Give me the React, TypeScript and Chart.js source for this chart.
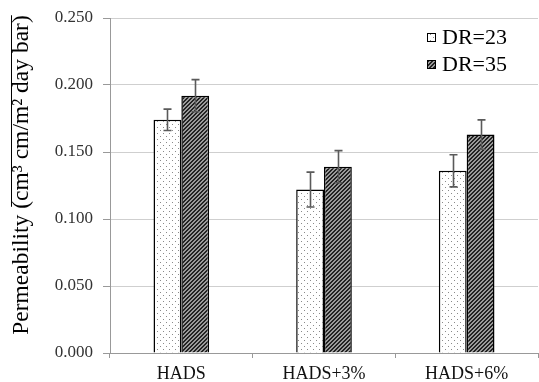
import React, { useEffect, useRef } from "react";
import { Chart, registerables } from "chart.js";

Chart.register(...registerables);

const categories = ["HADS", "HADS+3%", "HADS+6%"];
const seriesNames = ["DR=23", "DR=35"];
const dr23Values = [0.174, 0.122, 0.136];
const dr35Values = [0.192, 0.139, 0.163];
const dr23Errors = [0.008, 0.013, 0.012];
const dr35Errors = [0.012, 0.012, 0.011];
const yTicks = [0, 0.05, 0.1, 0.15, 0.2, 0.25];

const SERIF = '"Liberation Serif", "Times New Roman", serif';

function makeDots(): CanvasPattern | string {
  const c = document.createElement("canvas");
  c.width = 6;
  c.height = 6;
  const g = c.getContext("2d");
  if (!g) return "#fff";
  g.fillStyle = "#ffffff";
  g.fillRect(0, 0, 6, 6);
  g.fillStyle = "#8a8a8a";
  g.fillRect(1, 1, 1, 1);
  g.fillRect(4, 4, 1, 1);
  const p = g.createPattern(c, "repeat");
  return p || "#fff";
}

function makeHatch(): CanvasPattern | string {
  const c = document.createElement("canvas");
  c.width = 4;
  c.height = 4;
  const g = c.getContext("2d");
  if (!g) return "#555";
  for (let x = 0; x < 4; x++) {
    for (let y = 0; y < 4; y++) {
      g.fillStyle = (x + y) % 4 < 2 ? "#222" : "#9a9a9a";
      g.fillRect(x, y, 1, 1);
    }
  }
  const p = g.createPattern(c, "repeat");
  return p || "#555";
}

export default function App() {
  const ref = useRef<HTMLCanvasElement | null>(null);

  useEffect(() => {
    let chart: Chart | null = null;
    let cancelled = false;

    const build = () => {
      if (cancelled || !ref.current) return;
      const dots = makeDots();
      const hatch = makeHatch();
      const fills = [dots, hatch];
      const errors = [dr23Errors, dr35Errors];

      const errorBars = {
        id: "errorBars",
        afterDatasetsDraw(ch: any) {
          const ctx = ch.ctx;
          const ys = ch.scales.y;
          ctx.save();
          ctx.strokeStyle = "#5a5a5a";
          ctx.lineWidth = 1.6;
          ch.data.datasets.forEach((ds: any, i: number) => {
            const meta = ch.getDatasetMeta(i);
            meta.data.forEach((el: any, j: number) => {
              const v = ds.data[j];
              const e = errors[i][j];
              const x = Math.round(el.x) + 0.5;
              const yt = ys.getPixelForValue(v + e);
              const yb = ys.getPixelForValue(v - e);
              ctx.beginPath();
              ctx.moveTo(x, yt);
              ctx.lineTo(x, yb);
              ctx.moveTo(x - 4, yt);
              ctx.lineTo(x + 4, yt);
              ctx.moveTo(x - 4, yb);
              ctx.lineTo(x + 4, yb);
              ctx.stroke();
            });
          });
          ctx.restore();
        },
      };

      const decor = {
        id: "decor",
        afterDraw(ch: any) {
          const ctx = ch.ctx;
          ctx.save();
          const lx = 427;
          const rows = [37, 64];
          rows.forEach((cy, i) => {
            ctx.fillStyle = fills[i] as any;
            ctx.fillRect(lx, cy - 4, 9, 9);
            ctx.strokeStyle = "#000";
            ctx.lineWidth = 1;
            ctx.strokeRect(lx + 0.5, cy - 3.5, 8, 8);
            ctx.fillStyle = "#000";
            ctx.font = `22px ${SERIF}`;
            ctx.textBaseline = "middle";
            ctx.textAlign = "left";
            ctx.fillText(seriesNames[i], 442, cy + 1);
          });
          ctx.translate(28, 175);
          ctx.rotate(-Math.PI / 2);
          ctx.font = `23.5px ${SERIF}`;
          ctx.fillStyle = "#000";
          ctx.textBaseline = "alphabetic";
          const part1 = "Permeability ";
          const part2 = "(cm³ cm/m² day bar)";
          const w1 = ctx.measureText(part1).width;
          const w2 = ctx.measureText(part2).width;
          const start = -(w1 + w2) / 2;
          ctx.textAlign = "left";
          ctx.fillText(part1, start, 0);
          ctx.fillText(part2, start + w1, 0);
          ctx.strokeStyle = "#000";
          ctx.lineWidth = 1;
          ctx.beginPath();
          ctx.moveTo(start + w1 + 2, -16.5);
          ctx.lineTo(start + w1 + w2, -16.5);
          ctx.stroke();
          ctx.restore();
        },
      };

      chart = new Chart(ref.current, {
        type: "bar",
        data: {
          labels: categories,
          datasets: [
            {
              label: seriesNames[0],
              data: dr23Values,
              backgroundColor: dots as any,
              borderColor: "#000",
              borderWidth: 1.5,
            },
            {
              label: seriesNames[1],
              data: dr35Values,
              backgroundColor: hatch as any,
              borderColor: "#000",
              borderWidth: 1.5,
            },
          ],
        },
        options: {
          animation: false,
          responsive: false,
          maintainAspectRatio: false,
          layout: { padding: { top: 18, right: 1, left: 0, bottom: 0 } },
          plugins: {
            legend: { display: false },
            tooltip: { enabled: false },
            title: { display: false },
          },
          datasets: {
            bar: { categoryPercentage: 0.39, barPercentage: 1 },
          },
          scales: {
            x: {
              grid: {
                display: true,
                offset: true,
                drawOnChartArea: false,
                drawTicks: true,
                tickLength: 5,
                color: "#999",
              },
              border: { display: true, color: "#999", width: 1 },
              ticks: {
                font: { family: SERIF, size: 18 },
                color: "#111",
                padding: 5,
              },
              afterFit(scale: any) {
                scale.height = 29;
                scale.paddingLeft = 0;
                scale.paddingRight = 0;
              },
            },
            y: {
              min: 0,
              max: 0.25,
              afterBuildTicks(scale: any) {
                scale.ticks = yTicks.map((v) => ({ value: v }));
              },
              grid: {
                color: "#cfcfcf",
                lineWidth: 1,
                drawTicks: true,
                tickLength: 7,
                tickColor: "#999",
              },
              border: { display: true, color: "#999", width: 1 },
              ticks: {
                font: { family: SERIF, size: 17 },
                color: "#333",
                padding: 10,
                callback: (v: any) => Number(v).toFixed(3),
              },
              afterFit(scale: any) {
                scale.width = 110;
                scale.paddingTop = 0;
                scale.paddingBottom = 0;
              },
            },
          },
        },
        plugins: [errorBars, decor],
      });
    };

    const fontsApi: any = (document as any).fonts;
    if (fontsApi && fontsApi.load) {
      Promise.all([
        fontsApi.load(`16px "Liberation Serif"`),
        fontsApi.load(`22px "Liberation Serif"`),
      ])
        .catch(() => null)
        .then(() => build());
    } else {
      build();
    }

    return () => {
      cancelled = true;
      if (chart) chart.destroy();
    };
  }, []);

  return (
    <div style={{ position: "fixed", left: 0, top: 0, width: 539, height: 382, background: "#fff" }}>
      <canvas ref={ref} width={539} height={382} style={{ display: "block" }} />
    </div>
  );
}
